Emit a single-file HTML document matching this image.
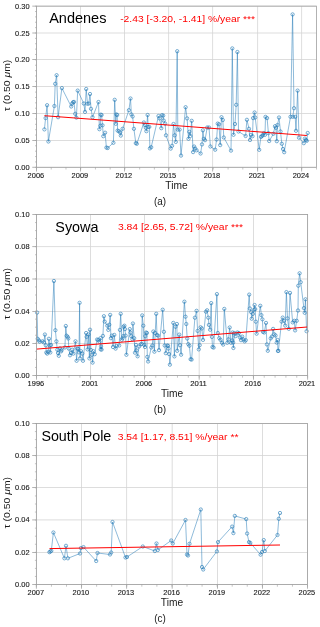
<!DOCTYPE html>
<html><head><meta charset="utf-8"><style>
html,body{margin:0;padding:0;background:#fff;width:320px;height:627px;overflow:hidden}
svg{display:block;will-change:transform}
text{font-family:"Liberation Sans", sans-serif}
</style></head><body>
<svg width="320" height="627" viewBox="0 0 320 627">
<line x1="36.50" y1="6.15" x2="36.50" y2="167.30" stroke="#d4d4d4" stroke-width="0.8"/>
<line x1="80.50" y1="6.15" x2="80.50" y2="167.30" stroke="#d4d4d4" stroke-width="0.8"/>
<line x1="124.50" y1="6.15" x2="124.50" y2="167.30" stroke="#d4d4d4" stroke-width="0.8"/>
<line x1="168.60" y1="6.15" x2="168.60" y2="167.30" stroke="#d4d4d4" stroke-width="0.8"/>
<line x1="212.60" y1="6.15" x2="212.60" y2="167.30" stroke="#d4d4d4" stroke-width="0.8"/>
<line x1="257.60" y1="6.15" x2="257.60" y2="167.30" stroke="#d4d4d4" stroke-width="0.8"/>
<line x1="301.60" y1="6.15" x2="301.60" y2="167.30" stroke="#d4d4d4" stroke-width="0.8"/>
<line x1="36.50" y1="167.30" x2="316.50" y2="167.30" stroke="#d4d4d4" stroke-width="0.8"/>
<line x1="36.50" y1="140.50" x2="316.50" y2="140.50" stroke="#d4d4d4" stroke-width="0.8"/>
<line x1="36.50" y1="113.50" x2="316.50" y2="113.50" stroke="#d4d4d4" stroke-width="0.8"/>
<line x1="36.50" y1="86.50" x2="316.50" y2="86.50" stroke="#d4d4d4" stroke-width="0.8"/>
<line x1="36.50" y1="59.50" x2="316.50" y2="59.50" stroke="#d4d4d4" stroke-width="0.8"/>
<line x1="36.50" y1="33.00" x2="316.50" y2="33.00" stroke="#d4d4d4" stroke-width="0.8"/>
<line x1="36.50" y1="6.15" x2="316.50" y2="6.15" stroke="#d4d4d4" stroke-width="0.8"/>
<polyline points="44.4,129.4 45.6,118.1 47.1,105.2 48.4,141.5 54.4,106.0 55.2,83.8 56.6,75.2 58.1,117.2 61.9,88.1 71.2,106.5 72.2,103.5 73.1,102.2 74.0,101.9 75.2,113.8 76.4,117.6 77.7,90.6 83.8,103.5 85.0,111.9 86.2,89.0 87.5,103.8 88.8,103.5 90.0,94.0 91.0,108.8 92.5,117.2 98.5,102.0 99.4,129.2 100.3,125.7 100.7,114.7 101.6,115.0 102.5,125.3 103.3,136.2 105.1,132.7 106.4,147.6 107.7,148.0 113.4,142.8 114.7,99.8 115.8,123.8 116.4,114.4 117.2,115.0 117.6,130.6 118.9,131.2 120.1,132.5 120.8,135.6 122.6,128.8 128.9,110.2 130.5,98.5 131.4,114.4 132.6,116.5 133.9,128.8 135.8,143.1 136.8,143.8 143.9,122.5 144.8,125.0 145.8,127.8 146.4,131.2 147.6,115.0 148.2,126.9 149.3,126.9 149.9,148.4 151.2,147.2 158.5,116.0 159.5,118.4 161.3,128.2 162.0,115.2 163.2,115.6 163.7,120.5 165.1,123.6 166.0,135.3 170.7,148.6 172.1,145.8 173.5,124.0 174.7,135.3 175.8,141.9 177.2,51.2 177.8,129.6 179.6,129.6 181.0,155.6 185.6,107.2 187.1,118.4 188.5,138.8 189.3,131.8 190.3,136.0 191.7,120.8 193.1,152.1 194.1,146.5 195.2,148.6 196.6,150.3 200.6,153.5 202.0,144.4 202.9,130.3 203.9,138.8 205.0,140.2 207.2,127.5 209.0,127.5 210.4,146.5 215.2,149.7 216.6,139.5 217.7,123.6 219.0,124.3 220.2,145.1 221.5,117.2 222.8,120.0 223.8,137.5 231.0,150.6 232.3,48.4 233.5,134.8 235.0,124.0 236.2,104.8 237.4,52.0 238.5,131.5 245.6,136.0 246.9,119.8 249.0,128.8 250.0,140.0 251.0,134.8 252.5,136.2 253.1,118.1 254.6,112.5 255.2,117.5 259.2,149.8 260.9,136.9 261.8,136.2 262.8,135.2 263.8,133.1 265.0,134.8 265.5,116.9 267.1,118.1 268.4,133.1 269.2,141.0 273.4,133.8 275.0,126.2 275.9,127.8 276.8,141.2 277.5,125.0 279.0,117.5 280.5,131.5 281.8,143.8 283.0,149.0 284.2,152.2 290.5,116.8 292.6,14.4 294.0,108.2 292.8,116.8 295.2,116.8 296.0,130.8 297.6,90.6 299.0,137.7 303.8,143.2 304.9,138.6 306.0,140.0 306.8,140.8 307.7,133.0" fill="none" stroke="#1f77b4" stroke-width="0.5" stroke-linejoin="round"/>
<g fill="none" stroke="#1f77b4" stroke-width="0.6">
<circle cx="44.4" cy="129.4" r="1.65"/>
<circle cx="45.6" cy="118.1" r="1.65"/>
<circle cx="47.1" cy="105.2" r="1.65"/>
<circle cx="48.4" cy="141.5" r="1.65"/>
<circle cx="54.4" cy="106.0" r="1.65"/>
<circle cx="55.2" cy="83.8" r="1.65"/>
<circle cx="56.6" cy="75.2" r="1.65"/>
<circle cx="58.1" cy="117.2" r="1.65"/>
<circle cx="61.9" cy="88.1" r="1.65"/>
<circle cx="71.2" cy="106.5" r="1.65"/>
<circle cx="72.2" cy="103.5" r="1.65"/>
<circle cx="73.1" cy="102.2" r="1.65"/>
<circle cx="74.0" cy="101.9" r="1.65"/>
<circle cx="75.2" cy="113.8" r="1.65"/>
<circle cx="76.4" cy="117.6" r="1.65"/>
<circle cx="77.7" cy="90.6" r="1.65"/>
<circle cx="83.8" cy="103.5" r="1.65"/>
<circle cx="85.0" cy="111.9" r="1.65"/>
<circle cx="86.2" cy="89.0" r="1.65"/>
<circle cx="87.5" cy="103.8" r="1.65"/>
<circle cx="88.8" cy="103.5" r="1.65"/>
<circle cx="90.0" cy="94.0" r="1.65"/>
<circle cx="91.0" cy="108.8" r="1.65"/>
<circle cx="92.5" cy="117.2" r="1.65"/>
<circle cx="98.5" cy="102.0" r="1.65"/>
<circle cx="99.4" cy="129.2" r="1.65"/>
<circle cx="100.3" cy="125.7" r="1.65"/>
<circle cx="100.7" cy="114.7" r="1.65"/>
<circle cx="101.6" cy="115.0" r="1.65"/>
<circle cx="102.5" cy="125.3" r="1.65"/>
<circle cx="103.3" cy="136.2" r="1.65"/>
<circle cx="105.1" cy="132.7" r="1.65"/>
<circle cx="106.4" cy="147.6" r="1.65"/>
<circle cx="107.7" cy="148.0" r="1.65"/>
<circle cx="113.4" cy="142.8" r="1.65"/>
<circle cx="114.7" cy="99.8" r="1.65"/>
<circle cx="115.8" cy="123.8" r="1.65"/>
<circle cx="116.4" cy="114.4" r="1.65"/>
<circle cx="117.2" cy="115.0" r="1.65"/>
<circle cx="117.6" cy="130.6" r="1.65"/>
<circle cx="118.9" cy="131.2" r="1.65"/>
<circle cx="120.1" cy="132.5" r="1.65"/>
<circle cx="120.8" cy="135.6" r="1.65"/>
<circle cx="122.6" cy="128.8" r="1.65"/>
<circle cx="128.9" cy="110.2" r="1.65"/>
<circle cx="130.5" cy="98.5" r="1.65"/>
<circle cx="131.4" cy="114.4" r="1.65"/>
<circle cx="132.6" cy="116.5" r="1.65"/>
<circle cx="133.9" cy="128.8" r="1.65"/>
<circle cx="135.8" cy="143.1" r="1.65"/>
<circle cx="136.8" cy="143.8" r="1.65"/>
<circle cx="143.9" cy="122.5" r="1.65"/>
<circle cx="144.8" cy="125.0" r="1.65"/>
<circle cx="145.8" cy="127.8" r="1.65"/>
<circle cx="146.4" cy="131.2" r="1.65"/>
<circle cx="147.6" cy="115.0" r="1.65"/>
<circle cx="148.2" cy="126.9" r="1.65"/>
<circle cx="149.3" cy="126.9" r="1.65"/>
<circle cx="149.9" cy="148.4" r="1.65"/>
<circle cx="151.2" cy="147.2" r="1.65"/>
<circle cx="158.5" cy="116.0" r="1.65"/>
<circle cx="159.5" cy="118.4" r="1.65"/>
<circle cx="161.3" cy="128.2" r="1.65"/>
<circle cx="162.0" cy="115.2" r="1.65"/>
<circle cx="163.2" cy="115.6" r="1.65"/>
<circle cx="163.7" cy="120.5" r="1.65"/>
<circle cx="165.1" cy="123.6" r="1.65"/>
<circle cx="166.0" cy="135.3" r="1.65"/>
<circle cx="170.7" cy="148.6" r="1.65"/>
<circle cx="172.1" cy="145.8" r="1.65"/>
<circle cx="173.5" cy="124.0" r="1.65"/>
<circle cx="174.7" cy="135.3" r="1.65"/>
<circle cx="175.8" cy="141.9" r="1.65"/>
<circle cx="177.2" cy="51.2" r="1.65"/>
<circle cx="177.8" cy="129.6" r="1.65"/>
<circle cx="179.6" cy="129.6" r="1.65"/>
<circle cx="181.0" cy="155.6" r="1.65"/>
<circle cx="185.6" cy="107.2" r="1.65"/>
<circle cx="187.1" cy="118.4" r="1.65"/>
<circle cx="188.5" cy="138.8" r="1.65"/>
<circle cx="189.3" cy="131.8" r="1.65"/>
<circle cx="190.3" cy="136.0" r="1.65"/>
<circle cx="191.7" cy="120.8" r="1.65"/>
<circle cx="193.1" cy="152.1" r="1.65"/>
<circle cx="194.1" cy="146.5" r="1.65"/>
<circle cx="195.2" cy="148.6" r="1.65"/>
<circle cx="196.6" cy="150.3" r="1.65"/>
<circle cx="200.6" cy="153.5" r="1.65"/>
<circle cx="202.0" cy="144.4" r="1.65"/>
<circle cx="202.9" cy="130.3" r="1.65"/>
<circle cx="203.9" cy="138.8" r="1.65"/>
<circle cx="205.0" cy="140.2" r="1.65"/>
<circle cx="207.2" cy="127.5" r="1.65"/>
<circle cx="209.0" cy="127.5" r="1.65"/>
<circle cx="210.4" cy="146.5" r="1.65"/>
<circle cx="215.2" cy="149.7" r="1.65"/>
<circle cx="216.6" cy="139.5" r="1.65"/>
<circle cx="217.7" cy="123.6" r="1.65"/>
<circle cx="219.0" cy="124.3" r="1.65"/>
<circle cx="220.2" cy="145.1" r="1.65"/>
<circle cx="221.5" cy="117.2" r="1.65"/>
<circle cx="222.8" cy="120.0" r="1.65"/>
<circle cx="223.8" cy="137.5" r="1.65"/>
<circle cx="231.0" cy="150.6" r="1.65"/>
<circle cx="232.3" cy="48.4" r="1.65"/>
<circle cx="233.5" cy="134.8" r="1.65"/>
<circle cx="235.0" cy="124.0" r="1.65"/>
<circle cx="236.2" cy="104.8" r="1.65"/>
<circle cx="237.4" cy="52.0" r="1.65"/>
<circle cx="238.5" cy="131.5" r="1.65"/>
<circle cx="245.6" cy="136.0" r="1.65"/>
<circle cx="246.9" cy="119.8" r="1.65"/>
<circle cx="249.0" cy="128.8" r="1.65"/>
<circle cx="250.0" cy="140.0" r="1.65"/>
<circle cx="251.0" cy="134.8" r="1.65"/>
<circle cx="252.5" cy="136.2" r="1.65"/>
<circle cx="253.1" cy="118.1" r="1.65"/>
<circle cx="254.6" cy="112.5" r="1.65"/>
<circle cx="255.2" cy="117.5" r="1.65"/>
<circle cx="259.2" cy="149.8" r="1.65"/>
<circle cx="260.9" cy="136.9" r="1.65"/>
<circle cx="261.8" cy="136.2" r="1.65"/>
<circle cx="262.8" cy="135.2" r="1.65"/>
<circle cx="263.8" cy="133.1" r="1.65"/>
<circle cx="265.0" cy="134.8" r="1.65"/>
<circle cx="265.5" cy="116.9" r="1.65"/>
<circle cx="267.1" cy="118.1" r="1.65"/>
<circle cx="268.4" cy="133.1" r="1.65"/>
<circle cx="269.2" cy="141.0" r="1.65"/>
<circle cx="273.4" cy="133.8" r="1.65"/>
<circle cx="275.0" cy="126.2" r="1.65"/>
<circle cx="275.9" cy="127.8" r="1.65"/>
<circle cx="276.8" cy="141.2" r="1.65"/>
<circle cx="277.5" cy="125.0" r="1.65"/>
<circle cx="279.0" cy="117.5" r="1.65"/>
<circle cx="280.5" cy="131.5" r="1.65"/>
<circle cx="281.8" cy="143.8" r="1.65"/>
<circle cx="283.0" cy="149.0" r="1.65"/>
<circle cx="284.2" cy="152.2" r="1.65"/>
<circle cx="290.5" cy="116.8" r="1.65"/>
<circle cx="292.6" cy="14.4" r="1.65"/>
<circle cx="294.0" cy="108.2" r="1.65"/>
<circle cx="292.8" cy="116.8" r="1.65"/>
<circle cx="295.2" cy="116.8" r="1.65"/>
<circle cx="296.0" cy="130.8" r="1.65"/>
<circle cx="297.6" cy="90.6" r="1.65"/>
<circle cx="299.0" cy="137.7" r="1.65"/>
<circle cx="303.8" cy="143.2" r="1.65"/>
<circle cx="304.9" cy="138.6" r="1.65"/>
<circle cx="306.0" cy="140.0" r="1.65"/>
<circle cx="306.8" cy="140.8" r="1.65"/>
<circle cx="307.7" cy="133.0" r="1.65"/>
</g>
<line x1="44.4" y1="115.7" x2="306.9" y2="135.5" stroke="#ff0000" stroke-width="1.0"/>
<rect x="36.50" y="6.15" width="280.00" height="161.15" fill="none" stroke="#a0a0a0" stroke-width="0.8"/>
<line x1="36.50" y1="167.30" x2="36.50" y2="169.50" stroke="#a0a0a0" stroke-width="0.6"/>
<line x1="51.24" y1="167.30" x2="51.24" y2="169.50" stroke="#a0a0a0" stroke-width="0.6"/>
<line x1="65.97" y1="167.30" x2="65.97" y2="169.50" stroke="#a0a0a0" stroke-width="0.6"/>
<line x1="80.71" y1="167.30" x2="80.71" y2="169.50" stroke="#a0a0a0" stroke-width="0.6"/>
<line x1="95.45" y1="167.30" x2="95.45" y2="169.50" stroke="#a0a0a0" stroke-width="0.6"/>
<line x1="110.18" y1="167.30" x2="110.18" y2="169.50" stroke="#a0a0a0" stroke-width="0.6"/>
<line x1="124.92" y1="167.30" x2="124.92" y2="169.50" stroke="#a0a0a0" stroke-width="0.6"/>
<line x1="139.66" y1="167.30" x2="139.66" y2="169.50" stroke="#a0a0a0" stroke-width="0.6"/>
<line x1="154.39" y1="167.30" x2="154.39" y2="169.50" stroke="#a0a0a0" stroke-width="0.6"/>
<line x1="169.13" y1="167.30" x2="169.13" y2="169.50" stroke="#a0a0a0" stroke-width="0.6"/>
<line x1="183.87" y1="167.30" x2="183.87" y2="169.50" stroke="#a0a0a0" stroke-width="0.6"/>
<line x1="198.61" y1="167.30" x2="198.61" y2="169.50" stroke="#a0a0a0" stroke-width="0.6"/>
<line x1="213.34" y1="167.30" x2="213.34" y2="169.50" stroke="#a0a0a0" stroke-width="0.6"/>
<line x1="228.08" y1="167.30" x2="228.08" y2="169.50" stroke="#a0a0a0" stroke-width="0.6"/>
<line x1="242.82" y1="167.30" x2="242.82" y2="169.50" stroke="#a0a0a0" stroke-width="0.6"/>
<line x1="257.55" y1="167.30" x2="257.55" y2="169.50" stroke="#a0a0a0" stroke-width="0.6"/>
<line x1="272.29" y1="167.30" x2="272.29" y2="169.50" stroke="#a0a0a0" stroke-width="0.6"/>
<line x1="287.03" y1="167.30" x2="287.03" y2="169.50" stroke="#a0a0a0" stroke-width="0.6"/>
<line x1="301.76" y1="167.30" x2="301.76" y2="169.50" stroke="#a0a0a0" stroke-width="0.6"/>
<line x1="316.50" y1="167.30" x2="316.50" y2="169.50" stroke="#a0a0a0" stroke-width="0.6"/>
<line x1="36.50" y1="167.30" x2="36.50" y2="171.50" stroke="#a0a0a0" stroke-width="0.8"/>
<text x="35.90" y="178.10" font-size="7.20" text-anchor="middle" fill="#1a1a1a" textLength="16.54" lengthAdjust="spacingAndGlyphs" stroke="#1a1a1a" stroke-width="0.12">2006</text>
<line x1="80.50" y1="167.30" x2="80.50" y2="171.50" stroke="#a0a0a0" stroke-width="0.8"/>
<text x="79.90" y="178.10" font-size="7.20" text-anchor="middle" fill="#1a1a1a" textLength="16.54" lengthAdjust="spacingAndGlyphs" stroke="#1a1a1a" stroke-width="0.12">2009</text>
<line x1="124.50" y1="167.30" x2="124.50" y2="171.50" stroke="#a0a0a0" stroke-width="0.8"/>
<text x="123.90" y="178.10" font-size="7.20" text-anchor="middle" fill="#1a1a1a" textLength="16.54" lengthAdjust="spacingAndGlyphs" stroke="#1a1a1a" stroke-width="0.12">2012</text>
<line x1="168.60" y1="167.30" x2="168.60" y2="171.50" stroke="#a0a0a0" stroke-width="0.8"/>
<text x="168.00" y="178.10" font-size="7.20" text-anchor="middle" fill="#1a1a1a" textLength="16.54" lengthAdjust="spacingAndGlyphs" stroke="#1a1a1a" stroke-width="0.12">2015</text>
<line x1="212.60" y1="167.30" x2="212.60" y2="171.50" stroke="#a0a0a0" stroke-width="0.8"/>
<text x="212.00" y="178.10" font-size="7.20" text-anchor="middle" fill="#1a1a1a" textLength="16.54" lengthAdjust="spacingAndGlyphs" stroke="#1a1a1a" stroke-width="0.12">2018</text>
<line x1="257.60" y1="167.30" x2="257.60" y2="171.50" stroke="#a0a0a0" stroke-width="0.8"/>
<text x="257.00" y="178.10" font-size="7.20" text-anchor="middle" fill="#1a1a1a" textLength="16.54" lengthAdjust="spacingAndGlyphs" stroke="#1a1a1a" stroke-width="0.12">2021</text>
<line x1="301.60" y1="167.30" x2="301.60" y2="171.50" stroke="#a0a0a0" stroke-width="0.8"/>
<text x="301.00" y="178.10" font-size="7.20" text-anchor="middle" fill="#1a1a1a" textLength="16.54" lengthAdjust="spacingAndGlyphs" stroke="#1a1a1a" stroke-width="0.12">2024</text>
<line x1="35.00" y1="167.30" x2="36.50" y2="167.30" stroke="#a0a0a0" stroke-width="0.6"/>
<line x1="35.00" y1="161.93" x2="36.50" y2="161.93" stroke="#a0a0a0" stroke-width="0.6"/>
<line x1="35.00" y1="156.56" x2="36.50" y2="156.56" stroke="#a0a0a0" stroke-width="0.6"/>
<line x1="35.00" y1="151.19" x2="36.50" y2="151.19" stroke="#a0a0a0" stroke-width="0.6"/>
<line x1="35.00" y1="145.81" x2="36.50" y2="145.81" stroke="#a0a0a0" stroke-width="0.6"/>
<line x1="35.00" y1="140.44" x2="36.50" y2="140.44" stroke="#a0a0a0" stroke-width="0.6"/>
<line x1="35.00" y1="135.07" x2="36.50" y2="135.07" stroke="#a0a0a0" stroke-width="0.6"/>
<line x1="35.00" y1="129.70" x2="36.50" y2="129.70" stroke="#a0a0a0" stroke-width="0.6"/>
<line x1="35.00" y1="124.33" x2="36.50" y2="124.33" stroke="#a0a0a0" stroke-width="0.6"/>
<line x1="35.00" y1="118.96" x2="36.50" y2="118.96" stroke="#a0a0a0" stroke-width="0.6"/>
<line x1="35.00" y1="113.58" x2="36.50" y2="113.58" stroke="#a0a0a0" stroke-width="0.6"/>
<line x1="35.00" y1="108.21" x2="36.50" y2="108.21" stroke="#a0a0a0" stroke-width="0.6"/>
<line x1="35.00" y1="102.84" x2="36.50" y2="102.84" stroke="#a0a0a0" stroke-width="0.6"/>
<line x1="35.00" y1="97.47" x2="36.50" y2="97.47" stroke="#a0a0a0" stroke-width="0.6"/>
<line x1="35.00" y1="92.10" x2="36.50" y2="92.10" stroke="#a0a0a0" stroke-width="0.6"/>
<line x1="35.00" y1="86.73" x2="36.50" y2="86.73" stroke="#a0a0a0" stroke-width="0.6"/>
<line x1="35.00" y1="81.35" x2="36.50" y2="81.35" stroke="#a0a0a0" stroke-width="0.6"/>
<line x1="35.00" y1="75.98" x2="36.50" y2="75.98" stroke="#a0a0a0" stroke-width="0.6"/>
<line x1="35.00" y1="70.61" x2="36.50" y2="70.61" stroke="#a0a0a0" stroke-width="0.6"/>
<line x1="35.00" y1="65.24" x2="36.50" y2="65.24" stroke="#a0a0a0" stroke-width="0.6"/>
<line x1="35.00" y1="59.87" x2="36.50" y2="59.87" stroke="#a0a0a0" stroke-width="0.6"/>
<line x1="35.00" y1="54.49" x2="36.50" y2="54.49" stroke="#a0a0a0" stroke-width="0.6"/>
<line x1="35.00" y1="49.12" x2="36.50" y2="49.12" stroke="#a0a0a0" stroke-width="0.6"/>
<line x1="35.00" y1="43.75" x2="36.50" y2="43.75" stroke="#a0a0a0" stroke-width="0.6"/>
<line x1="35.00" y1="38.38" x2="36.50" y2="38.38" stroke="#a0a0a0" stroke-width="0.6"/>
<line x1="35.00" y1="33.01" x2="36.50" y2="33.01" stroke="#a0a0a0" stroke-width="0.6"/>
<line x1="35.00" y1="27.64" x2="36.50" y2="27.64" stroke="#a0a0a0" stroke-width="0.6"/>
<line x1="35.00" y1="22.26" x2="36.50" y2="22.26" stroke="#a0a0a0" stroke-width="0.6"/>
<line x1="35.00" y1="16.89" x2="36.50" y2="16.89" stroke="#a0a0a0" stroke-width="0.6"/>
<line x1="35.00" y1="11.52" x2="36.50" y2="11.52" stroke="#a0a0a0" stroke-width="0.6"/>
<line x1="35.00" y1="6.15" x2="36.50" y2="6.15" stroke="#a0a0a0" stroke-width="0.6"/>
<line x1="32.30" y1="167.30" x2="36.50" y2="167.30" stroke="#a0a0a0" stroke-width="0.8"/>
<text x="29.60" y="169.85" font-size="7.20" text-anchor="end" fill="#1a1a1a" textLength="14.47" lengthAdjust="spacingAndGlyphs" stroke="#1a1a1a" stroke-width="0.12">0.00</text>
<line x1="32.30" y1="140.50" x2="36.50" y2="140.50" stroke="#a0a0a0" stroke-width="0.8"/>
<text x="29.60" y="143.05" font-size="7.20" text-anchor="end" fill="#1a1a1a" textLength="14.47" lengthAdjust="spacingAndGlyphs" stroke="#1a1a1a" stroke-width="0.12">0.05</text>
<line x1="32.30" y1="113.50" x2="36.50" y2="113.50" stroke="#a0a0a0" stroke-width="0.8"/>
<text x="29.60" y="116.05" font-size="7.20" text-anchor="end" fill="#1a1a1a" textLength="14.47" lengthAdjust="spacingAndGlyphs" stroke="#1a1a1a" stroke-width="0.12">0.10</text>
<line x1="32.30" y1="86.50" x2="36.50" y2="86.50" stroke="#a0a0a0" stroke-width="0.8"/>
<text x="29.60" y="89.05" font-size="7.20" text-anchor="end" fill="#1a1a1a" textLength="14.47" lengthAdjust="spacingAndGlyphs" stroke="#1a1a1a" stroke-width="0.12">0.15</text>
<line x1="32.30" y1="59.50" x2="36.50" y2="59.50" stroke="#a0a0a0" stroke-width="0.8"/>
<text x="29.60" y="62.05" font-size="7.20" text-anchor="end" fill="#1a1a1a" textLength="14.47" lengthAdjust="spacingAndGlyphs" stroke="#1a1a1a" stroke-width="0.12">0.20</text>
<line x1="32.30" y1="33.00" x2="36.50" y2="33.00" stroke="#a0a0a0" stroke-width="0.8"/>
<text x="29.60" y="35.55" font-size="7.20" text-anchor="end" fill="#1a1a1a" textLength="14.47" lengthAdjust="spacingAndGlyphs" stroke="#1a1a1a" stroke-width="0.12">0.25</text>
<line x1="32.30" y1="6.15" x2="36.50" y2="6.15" stroke="#a0a0a0" stroke-width="0.8"/>
<text x="29.60" y="8.70" font-size="7.20" text-anchor="end" fill="#1a1a1a" textLength="14.47" lengthAdjust="spacingAndGlyphs" stroke="#1a1a1a" stroke-width="0.12">0.30</text>
<text x="49.20" y="23.30" font-size="13.80" text-anchor="start" fill="#000" textLength="57.24" lengthAdjust="spacingAndGlyphs">Andenes</text>
<text x="120.20" y="21.90" font-size="9.46" text-anchor="start" fill="#ff0000" textLength="134.83" lengthAdjust="spacingAndGlyphs">-2.43 [-3.20, -1.41] %/year ***</text>
<text x="176.50" y="188.90" font-size="10.40" text-anchor="middle" fill="#1a1a1a" textLength="22.30" lengthAdjust="spacingAndGlyphs">Time</text>
<text x="160.00" y="204.90" font-size="10.30" text-anchor="middle" fill="#1a1a1a" textLength="12.12" lengthAdjust="spacingAndGlyphs">(a)</text>
<text font-size="9.80" text-anchor="middle" fill="#1a1a1a" textLength="51.53" lengthAdjust="spacingAndGlyphs" transform="translate(9.6,85.43) rotate(-90)">τ (0.50 <tspan font-style="italic">μ</tspan>m)</text><line x1="36.50" y1="214.50" x2="36.50" y2="375.50" stroke="#d4d4d4" stroke-width="0.8"/>
<line x1="90.50" y1="214.50" x2="90.50" y2="375.50" stroke="#d4d4d4" stroke-width="0.8"/>
<line x1="144.50" y1="214.50" x2="144.50" y2="375.50" stroke="#d4d4d4" stroke-width="0.8"/>
<line x1="199.20" y1="214.50" x2="199.20" y2="375.50" stroke="#d4d4d4" stroke-width="0.8"/>
<line x1="253.50" y1="214.50" x2="253.50" y2="375.50" stroke="#d4d4d4" stroke-width="0.8"/>
<line x1="307.60" y1="214.50" x2="307.60" y2="375.50" stroke="#d4d4d4" stroke-width="0.8"/>
<line x1="36.50" y1="375.50" x2="307.60" y2="375.50" stroke="#d4d4d4" stroke-width="0.8"/>
<line x1="36.50" y1="343.50" x2="307.60" y2="343.50" stroke="#d4d4d4" stroke-width="0.8"/>
<line x1="36.50" y1="311.50" x2="307.60" y2="311.50" stroke="#d4d4d4" stroke-width="0.8"/>
<line x1="36.50" y1="279.00" x2="307.60" y2="279.00" stroke="#d4d4d4" stroke-width="0.8"/>
<line x1="36.50" y1="246.60" x2="307.60" y2="246.60" stroke="#d4d4d4" stroke-width="0.8"/>
<line x1="36.50" y1="214.50" x2="307.60" y2="214.50" stroke="#d4d4d4" stroke-width="0.8"/>
<polyline points="37.1,312.6 37.7,338.8 38.9,340.3 39.6,341.7 42.5,341.3 43.9,342.4 44.9,334.5 45.8,345.3 46.3,352.5 47.2,353.6 48.2,351.8 48.9,338.8 49.6,345.3 50.3,352.5 51.1,345.0 53.9,281.0 55.4,330.2 56.4,341.3 57.3,349.7 58.0,353.0 58.8,355.8 59.9,348.3 61.0,351.4 61.6,350.2 64.9,347.5 65.8,326.0 66.6,335.7 67.7,336.9 68.3,338.5 68.8,348.6 70.0,355.3 71.1,353.0 72.2,349.7 73.3,353.6 75.5,341.3 76.6,360.8 77.4,348.6 78.0,348.8 79.0,352.4 79.6,302.8 80.0,358.4 81.0,351.2 82.2,353.6 83.0,360.8 86.1,333.0 86.6,336.9 87.6,349.4 88.5,334.5 89.4,358.4 90.0,329.7 90.9,350.0 91.8,354.8 92.6,362.6 93.5,351.2 94.7,354.2 97.1,339.5 98.3,339.9 99.5,341.7 100.5,338.2 100.7,349.4 101.0,346.5 101.6,349.6 102.9,335.9 103.9,316.2 104.7,321.6 107.3,325.7 108.3,329.9 109.3,324.7 110.2,314.9 110.9,338.2 111.9,335.6 113.0,347.0 114.3,334.9 115.6,348.6 116.6,346.0 119.2,345.5 119.9,329.9 120.7,313.8 121.8,339.8 122.5,338.2 123.3,336.1 123.6,326.8 124.4,325.7 124.9,329.1 125.6,335.6 126.4,354.8 129.8,329.1 130.3,332.5 131.3,336.1 132.4,339.2 132.9,323.5 134.2,338.2 135.0,352.7 136.0,344.9 136.5,350.4 137.6,356.3 139.1,346.5 140.7,344.4 141.7,343.9 142.2,315.4 143.3,325.7 144.3,344.9 145.0,347.0 145.3,336.1 146.1,332.5 146.9,333.0 147.3,356.9 148.1,361.5 151.3,347.5 152.3,345.5 153.3,331.5 154.4,351.7 155.2,333.0 156.2,313.8 157.0,335.1 158.0,335.6 159.0,350.1 162.7,309.7 163.9,331.8 164.7,345.5 165.8,353.2 167.3,345.5 168.0,345.8 168.4,348.6 169.1,354.1 169.9,364.7 173.3,322.9 174.4,356.4 175.5,326.8 176.9,324.0 177.2,350.8 179.2,334.6 180.0,345.2 181.1,354.7 184.4,301.7 185.5,316.7 186.3,324.0 187.2,338.5 188.3,344.1 189.4,345.8 190.6,359.2 191.6,359.6 194.9,317.7 196.6,310.8 197.6,330.9 198.8,349.4 199.7,345.2 200.6,327.3 201.8,328.5 203.0,339.9 205.9,311.7 207.1,310.3 208.3,317.7 208.9,324.9 210.1,329.7 211.2,303.1 211.9,336.9 212.5,347.0 213.6,347.6 216.9,294.1 217.8,333.0 219.3,338.1 220.5,339.9 222.0,342.8 223.2,344.6 224.3,308.9 227.3,342.8 228.5,339.3 229.7,327.5 230.9,342.8 232.1,340.5 232.6,332.5 233.1,342.6 233.4,348.0 234.4,333.1 235.6,336.1 237.4,332.5 238.9,333.1 239.8,337.2 241.0,340.2 242.2,336.6 243.4,339.6 244.6,341.4 245.8,340.2 249.2,294.6 249.9,308.5 251.1,312.1 251.7,318.7 252.9,313.9 254.1,309.7 254.6,305.0 255.2,309.1 255.8,321.7 256.6,333.7 260.3,305.8 261.4,315.1 262.4,319.3 263.0,331.9 264.2,332.5 266.0,322.9 266.9,344.4 267.8,350.8 270.7,338.4 271.9,336.6 273.1,328.9 274.3,334.3 275.5,335.5 276.7,342.6 277.6,340.0 277.9,351.0 278.4,350.8 281.6,321.6 282.7,317.6 284.0,320.8 285.2,325.6 286.4,292.1 287.5,318.4 288.8,328.8 290.0,292.9 292.7,322.4 294.3,320.8 295.1,330.4 296.7,320.8 298.0,310.5 298.3,285.7 299.6,273.3 300.7,282.2 303.9,308.1 304.7,312.8 305.5,299.3 306.6,331.2" fill="none" stroke="#1f77b4" stroke-width="0.5" stroke-linejoin="round"/>
<g fill="none" stroke="#1f77b4" stroke-width="0.6">
<circle cx="37.1" cy="312.6" r="1.65"/>
<circle cx="37.7" cy="338.8" r="1.65"/>
<circle cx="38.9" cy="340.3" r="1.65"/>
<circle cx="39.6" cy="341.7" r="1.65"/>
<circle cx="42.5" cy="341.3" r="1.65"/>
<circle cx="43.9" cy="342.4" r="1.65"/>
<circle cx="44.9" cy="334.5" r="1.65"/>
<circle cx="45.8" cy="345.3" r="1.65"/>
<circle cx="46.3" cy="352.5" r="1.65"/>
<circle cx="47.2" cy="353.6" r="1.65"/>
<circle cx="48.2" cy="351.8" r="1.65"/>
<circle cx="48.9" cy="338.8" r="1.65"/>
<circle cx="49.6" cy="345.3" r="1.65"/>
<circle cx="50.3" cy="352.5" r="1.65"/>
<circle cx="51.1" cy="345.0" r="1.65"/>
<circle cx="53.9" cy="281.0" r="1.65"/>
<circle cx="55.4" cy="330.2" r="1.65"/>
<circle cx="56.4" cy="341.3" r="1.65"/>
<circle cx="57.3" cy="349.7" r="1.65"/>
<circle cx="58.0" cy="353.0" r="1.65"/>
<circle cx="58.8" cy="355.8" r="1.65"/>
<circle cx="59.9" cy="348.3" r="1.65"/>
<circle cx="61.0" cy="351.4" r="1.65"/>
<circle cx="61.6" cy="350.2" r="1.65"/>
<circle cx="64.9" cy="347.5" r="1.65"/>
<circle cx="65.8" cy="326.0" r="1.65"/>
<circle cx="66.6" cy="335.7" r="1.65"/>
<circle cx="67.7" cy="336.9" r="1.65"/>
<circle cx="68.3" cy="338.5" r="1.65"/>
<circle cx="68.8" cy="348.6" r="1.65"/>
<circle cx="70.0" cy="355.3" r="1.65"/>
<circle cx="71.1" cy="353.0" r="1.65"/>
<circle cx="72.2" cy="349.7" r="1.65"/>
<circle cx="73.3" cy="353.6" r="1.65"/>
<circle cx="75.5" cy="341.3" r="1.65"/>
<circle cx="76.6" cy="360.8" r="1.65"/>
<circle cx="77.4" cy="348.6" r="1.65"/>
<circle cx="78.0" cy="348.8" r="1.65"/>
<circle cx="79.0" cy="352.4" r="1.65"/>
<circle cx="79.6" cy="302.8" r="1.65"/>
<circle cx="80.0" cy="358.4" r="1.65"/>
<circle cx="81.0" cy="351.2" r="1.65"/>
<circle cx="82.2" cy="353.6" r="1.65"/>
<circle cx="83.0" cy="360.8" r="1.65"/>
<circle cx="86.1" cy="333.0" r="1.65"/>
<circle cx="86.6" cy="336.9" r="1.65"/>
<circle cx="87.6" cy="349.4" r="1.65"/>
<circle cx="88.5" cy="334.5" r="1.65"/>
<circle cx="89.4" cy="358.4" r="1.65"/>
<circle cx="90.0" cy="329.7" r="1.65"/>
<circle cx="90.9" cy="350.0" r="1.65"/>
<circle cx="91.8" cy="354.8" r="1.65"/>
<circle cx="92.6" cy="362.6" r="1.65"/>
<circle cx="93.5" cy="351.2" r="1.65"/>
<circle cx="94.7" cy="354.2" r="1.65"/>
<circle cx="97.1" cy="339.5" r="1.65"/>
<circle cx="98.3" cy="339.9" r="1.65"/>
<circle cx="99.5" cy="341.7" r="1.65"/>
<circle cx="100.5" cy="338.2" r="1.65"/>
<circle cx="100.7" cy="349.4" r="1.65"/>
<circle cx="101.0" cy="346.5" r="1.65"/>
<circle cx="101.6" cy="349.6" r="1.65"/>
<circle cx="102.9" cy="335.9" r="1.65"/>
<circle cx="103.9" cy="316.2" r="1.65"/>
<circle cx="104.7" cy="321.6" r="1.65"/>
<circle cx="107.3" cy="325.7" r="1.65"/>
<circle cx="108.3" cy="329.9" r="1.65"/>
<circle cx="109.3" cy="324.7" r="1.65"/>
<circle cx="110.2" cy="314.9" r="1.65"/>
<circle cx="110.9" cy="338.2" r="1.65"/>
<circle cx="111.9" cy="335.6" r="1.65"/>
<circle cx="113.0" cy="347.0" r="1.65"/>
<circle cx="114.3" cy="334.9" r="1.65"/>
<circle cx="115.6" cy="348.6" r="1.65"/>
<circle cx="116.6" cy="346.0" r="1.65"/>
<circle cx="119.2" cy="345.5" r="1.65"/>
<circle cx="119.9" cy="329.9" r="1.65"/>
<circle cx="120.7" cy="313.8" r="1.65"/>
<circle cx="121.8" cy="339.8" r="1.65"/>
<circle cx="122.5" cy="338.2" r="1.65"/>
<circle cx="123.3" cy="336.1" r="1.65"/>
<circle cx="123.6" cy="326.8" r="1.65"/>
<circle cx="124.4" cy="325.7" r="1.65"/>
<circle cx="124.9" cy="329.1" r="1.65"/>
<circle cx="125.6" cy="335.6" r="1.65"/>
<circle cx="126.4" cy="354.8" r="1.65"/>
<circle cx="129.8" cy="329.1" r="1.65"/>
<circle cx="130.3" cy="332.5" r="1.65"/>
<circle cx="131.3" cy="336.1" r="1.65"/>
<circle cx="132.4" cy="339.2" r="1.65"/>
<circle cx="132.9" cy="323.5" r="1.65"/>
<circle cx="134.2" cy="338.2" r="1.65"/>
<circle cx="135.0" cy="352.7" r="1.65"/>
<circle cx="136.0" cy="344.9" r="1.65"/>
<circle cx="136.5" cy="350.4" r="1.65"/>
<circle cx="137.6" cy="356.3" r="1.65"/>
<circle cx="139.1" cy="346.5" r="1.65"/>
<circle cx="140.7" cy="344.4" r="1.65"/>
<circle cx="141.7" cy="343.9" r="1.65"/>
<circle cx="142.2" cy="315.4" r="1.65"/>
<circle cx="143.3" cy="325.7" r="1.65"/>
<circle cx="144.3" cy="344.9" r="1.65"/>
<circle cx="145.0" cy="347.0" r="1.65"/>
<circle cx="145.3" cy="336.1" r="1.65"/>
<circle cx="146.1" cy="332.5" r="1.65"/>
<circle cx="146.9" cy="333.0" r="1.65"/>
<circle cx="147.3" cy="356.9" r="1.65"/>
<circle cx="148.1" cy="361.5" r="1.65"/>
<circle cx="151.3" cy="347.5" r="1.65"/>
<circle cx="152.3" cy="345.5" r="1.65"/>
<circle cx="153.3" cy="331.5" r="1.65"/>
<circle cx="154.4" cy="351.7" r="1.65"/>
<circle cx="155.2" cy="333.0" r="1.65"/>
<circle cx="156.2" cy="313.8" r="1.65"/>
<circle cx="157.0" cy="335.1" r="1.65"/>
<circle cx="158.0" cy="335.6" r="1.65"/>
<circle cx="159.0" cy="350.1" r="1.65"/>
<circle cx="162.7" cy="309.7" r="1.65"/>
<circle cx="163.9" cy="331.8" r="1.65"/>
<circle cx="164.7" cy="345.5" r="1.65"/>
<circle cx="165.8" cy="353.2" r="1.65"/>
<circle cx="167.3" cy="345.5" r="1.65"/>
<circle cx="168.0" cy="345.8" r="1.65"/>
<circle cx="168.4" cy="348.6" r="1.65"/>
<circle cx="169.1" cy="354.1" r="1.65"/>
<circle cx="169.9" cy="364.7" r="1.65"/>
<circle cx="173.3" cy="322.9" r="1.65"/>
<circle cx="174.4" cy="356.4" r="1.65"/>
<circle cx="175.5" cy="326.8" r="1.65"/>
<circle cx="176.9" cy="324.0" r="1.65"/>
<circle cx="177.2" cy="350.8" r="1.65"/>
<circle cx="179.2" cy="334.6" r="1.65"/>
<circle cx="180.0" cy="345.2" r="1.65"/>
<circle cx="181.1" cy="354.7" r="1.65"/>
<circle cx="184.4" cy="301.7" r="1.65"/>
<circle cx="185.5" cy="316.7" r="1.65"/>
<circle cx="186.3" cy="324.0" r="1.65"/>
<circle cx="187.2" cy="338.5" r="1.65"/>
<circle cx="188.3" cy="344.1" r="1.65"/>
<circle cx="189.4" cy="345.8" r="1.65"/>
<circle cx="190.6" cy="359.2" r="1.65"/>
<circle cx="191.6" cy="359.6" r="1.65"/>
<circle cx="194.9" cy="317.7" r="1.65"/>
<circle cx="196.6" cy="310.8" r="1.65"/>
<circle cx="197.6" cy="330.9" r="1.65"/>
<circle cx="198.8" cy="349.4" r="1.65"/>
<circle cx="199.7" cy="345.2" r="1.65"/>
<circle cx="200.6" cy="327.3" r="1.65"/>
<circle cx="201.8" cy="328.5" r="1.65"/>
<circle cx="203.0" cy="339.9" r="1.65"/>
<circle cx="205.9" cy="311.7" r="1.65"/>
<circle cx="207.1" cy="310.3" r="1.65"/>
<circle cx="208.3" cy="317.7" r="1.65"/>
<circle cx="208.9" cy="324.9" r="1.65"/>
<circle cx="210.1" cy="329.7" r="1.65"/>
<circle cx="211.2" cy="303.1" r="1.65"/>
<circle cx="211.9" cy="336.9" r="1.65"/>
<circle cx="212.5" cy="347.0" r="1.65"/>
<circle cx="213.6" cy="347.6" r="1.65"/>
<circle cx="216.9" cy="294.1" r="1.65"/>
<circle cx="217.8" cy="333.0" r="1.65"/>
<circle cx="219.3" cy="338.1" r="1.65"/>
<circle cx="220.5" cy="339.9" r="1.65"/>
<circle cx="222.0" cy="342.8" r="1.65"/>
<circle cx="223.2" cy="344.6" r="1.65"/>
<circle cx="224.3" cy="308.9" r="1.65"/>
<circle cx="227.3" cy="342.8" r="1.65"/>
<circle cx="228.5" cy="339.3" r="1.65"/>
<circle cx="229.7" cy="327.5" r="1.65"/>
<circle cx="230.9" cy="342.8" r="1.65"/>
<circle cx="232.1" cy="340.5" r="1.65"/>
<circle cx="232.6" cy="332.5" r="1.65"/>
<circle cx="233.1" cy="342.6" r="1.65"/>
<circle cx="233.4" cy="348.0" r="1.65"/>
<circle cx="234.4" cy="333.1" r="1.65"/>
<circle cx="235.6" cy="336.1" r="1.65"/>
<circle cx="237.4" cy="332.5" r="1.65"/>
<circle cx="238.9" cy="333.1" r="1.65"/>
<circle cx="239.8" cy="337.2" r="1.65"/>
<circle cx="241.0" cy="340.2" r="1.65"/>
<circle cx="242.2" cy="336.6" r="1.65"/>
<circle cx="243.4" cy="339.6" r="1.65"/>
<circle cx="244.6" cy="341.4" r="1.65"/>
<circle cx="245.8" cy="340.2" r="1.65"/>
<circle cx="249.2" cy="294.6" r="1.65"/>
<circle cx="249.9" cy="308.5" r="1.65"/>
<circle cx="251.1" cy="312.1" r="1.65"/>
<circle cx="251.7" cy="318.7" r="1.65"/>
<circle cx="252.9" cy="313.9" r="1.65"/>
<circle cx="254.1" cy="309.7" r="1.65"/>
<circle cx="254.6" cy="305.0" r="1.65"/>
<circle cx="255.2" cy="309.1" r="1.65"/>
<circle cx="255.8" cy="321.7" r="1.65"/>
<circle cx="256.6" cy="333.7" r="1.65"/>
<circle cx="260.3" cy="305.8" r="1.65"/>
<circle cx="261.4" cy="315.1" r="1.65"/>
<circle cx="262.4" cy="319.3" r="1.65"/>
<circle cx="263.0" cy="331.9" r="1.65"/>
<circle cx="264.2" cy="332.5" r="1.65"/>
<circle cx="266.0" cy="322.9" r="1.65"/>
<circle cx="266.9" cy="344.4" r="1.65"/>
<circle cx="267.8" cy="350.8" r="1.65"/>
<circle cx="270.7" cy="338.4" r="1.65"/>
<circle cx="271.9" cy="336.6" r="1.65"/>
<circle cx="273.1" cy="328.9" r="1.65"/>
<circle cx="274.3" cy="334.3" r="1.65"/>
<circle cx="275.5" cy="335.5" r="1.65"/>
<circle cx="276.7" cy="342.6" r="1.65"/>
<circle cx="277.6" cy="340.0" r="1.65"/>
<circle cx="277.9" cy="351.0" r="1.65"/>
<circle cx="278.4" cy="350.8" r="1.65"/>
<circle cx="281.6" cy="321.6" r="1.65"/>
<circle cx="282.7" cy="317.6" r="1.65"/>
<circle cx="284.0" cy="320.8" r="1.65"/>
<circle cx="285.2" cy="325.6" r="1.65"/>
<circle cx="286.4" cy="292.1" r="1.65"/>
<circle cx="287.5" cy="318.4" r="1.65"/>
<circle cx="288.8" cy="328.8" r="1.65"/>
<circle cx="290.0" cy="292.9" r="1.65"/>
<circle cx="292.7" cy="322.4" r="1.65"/>
<circle cx="294.3" cy="320.8" r="1.65"/>
<circle cx="295.1" cy="330.4" r="1.65"/>
<circle cx="296.7" cy="320.8" r="1.65"/>
<circle cx="298.0" cy="310.5" r="1.65"/>
<circle cx="298.3" cy="285.7" r="1.65"/>
<circle cx="299.6" cy="273.3" r="1.65"/>
<circle cx="300.7" cy="282.2" r="1.65"/>
<circle cx="303.9" cy="308.1" r="1.65"/>
<circle cx="304.7" cy="312.8" r="1.65"/>
<circle cx="305.5" cy="299.3" r="1.65"/>
<circle cx="306.6" cy="331.2" r="1.65"/>
</g>
<line x1="36.6" y1="349.1" x2="307.2" y2="327.0" stroke="#ff0000" stroke-width="1.0"/>
<rect x="36.50" y="214.50" width="271.10" height="161.00" fill="none" stroke="#a0a0a0" stroke-width="0.8"/>
<line x1="36.50" y1="375.50" x2="36.50" y2="377.70" stroke="#a0a0a0" stroke-width="0.6"/>
<line x1="47.34" y1="375.50" x2="47.34" y2="377.70" stroke="#a0a0a0" stroke-width="0.6"/>
<line x1="58.19" y1="375.50" x2="58.19" y2="377.70" stroke="#a0a0a0" stroke-width="0.6"/>
<line x1="69.03" y1="375.50" x2="69.03" y2="377.70" stroke="#a0a0a0" stroke-width="0.6"/>
<line x1="79.88" y1="375.50" x2="79.88" y2="377.70" stroke="#a0a0a0" stroke-width="0.6"/>
<line x1="90.72" y1="375.50" x2="90.72" y2="377.70" stroke="#a0a0a0" stroke-width="0.6"/>
<line x1="101.56" y1="375.50" x2="101.56" y2="377.70" stroke="#a0a0a0" stroke-width="0.6"/>
<line x1="112.41" y1="375.50" x2="112.41" y2="377.70" stroke="#a0a0a0" stroke-width="0.6"/>
<line x1="123.25" y1="375.50" x2="123.25" y2="377.70" stroke="#a0a0a0" stroke-width="0.6"/>
<line x1="134.10" y1="375.50" x2="134.10" y2="377.70" stroke="#a0a0a0" stroke-width="0.6"/>
<line x1="144.94" y1="375.50" x2="144.94" y2="377.70" stroke="#a0a0a0" stroke-width="0.6"/>
<line x1="155.78" y1="375.50" x2="155.78" y2="377.70" stroke="#a0a0a0" stroke-width="0.6"/>
<line x1="166.63" y1="375.50" x2="166.63" y2="377.70" stroke="#a0a0a0" stroke-width="0.6"/>
<line x1="177.47" y1="375.50" x2="177.47" y2="377.70" stroke="#a0a0a0" stroke-width="0.6"/>
<line x1="188.32" y1="375.50" x2="188.32" y2="377.70" stroke="#a0a0a0" stroke-width="0.6"/>
<line x1="199.16" y1="375.50" x2="199.16" y2="377.70" stroke="#a0a0a0" stroke-width="0.6"/>
<line x1="210.00" y1="375.50" x2="210.00" y2="377.70" stroke="#a0a0a0" stroke-width="0.6"/>
<line x1="220.85" y1="375.50" x2="220.85" y2="377.70" stroke="#a0a0a0" stroke-width="0.6"/>
<line x1="231.69" y1="375.50" x2="231.69" y2="377.70" stroke="#a0a0a0" stroke-width="0.6"/>
<line x1="242.54" y1="375.50" x2="242.54" y2="377.70" stroke="#a0a0a0" stroke-width="0.6"/>
<line x1="253.38" y1="375.50" x2="253.38" y2="377.70" stroke="#a0a0a0" stroke-width="0.6"/>
<line x1="264.22" y1="375.50" x2="264.22" y2="377.70" stroke="#a0a0a0" stroke-width="0.6"/>
<line x1="275.07" y1="375.50" x2="275.07" y2="377.70" stroke="#a0a0a0" stroke-width="0.6"/>
<line x1="285.91" y1="375.50" x2="285.91" y2="377.70" stroke="#a0a0a0" stroke-width="0.6"/>
<line x1="296.76" y1="375.50" x2="296.76" y2="377.70" stroke="#a0a0a0" stroke-width="0.6"/>
<line x1="307.60" y1="375.50" x2="307.60" y2="377.70" stroke="#a0a0a0" stroke-width="0.6"/>
<line x1="36.50" y1="375.50" x2="36.50" y2="379.70" stroke="#a0a0a0" stroke-width="0.8"/>
<text x="35.90" y="386.30" font-size="7.20" text-anchor="middle" fill="#1a1a1a" textLength="16.54" lengthAdjust="spacingAndGlyphs" stroke="#1a1a1a" stroke-width="0.12">1996</text>
<line x1="90.50" y1="375.50" x2="90.50" y2="379.70" stroke="#a0a0a0" stroke-width="0.8"/>
<text x="89.90" y="386.30" font-size="7.20" text-anchor="middle" fill="#1a1a1a" textLength="16.54" lengthAdjust="spacingAndGlyphs" stroke="#1a1a1a" stroke-width="0.12">2001</text>
<line x1="144.50" y1="375.50" x2="144.50" y2="379.70" stroke="#a0a0a0" stroke-width="0.8"/>
<text x="143.90" y="386.30" font-size="7.20" text-anchor="middle" fill="#1a1a1a" textLength="16.54" lengthAdjust="spacingAndGlyphs" stroke="#1a1a1a" stroke-width="0.12">2006</text>
<line x1="199.20" y1="375.50" x2="199.20" y2="379.70" stroke="#a0a0a0" stroke-width="0.8"/>
<text x="198.60" y="386.30" font-size="7.20" text-anchor="middle" fill="#1a1a1a" textLength="16.54" lengthAdjust="spacingAndGlyphs" stroke="#1a1a1a" stroke-width="0.12">2011</text>
<line x1="253.50" y1="375.50" x2="253.50" y2="379.70" stroke="#a0a0a0" stroke-width="0.8"/>
<text x="252.90" y="386.30" font-size="7.20" text-anchor="middle" fill="#1a1a1a" textLength="16.54" lengthAdjust="spacingAndGlyphs" stroke="#1a1a1a" stroke-width="0.12">2016</text>
<line x1="307.60" y1="375.50" x2="307.60" y2="379.70" stroke="#a0a0a0" stroke-width="0.8"/>
<text x="307.00" y="386.30" font-size="7.20" text-anchor="middle" fill="#1a1a1a" textLength="16.54" lengthAdjust="spacingAndGlyphs" stroke="#1a1a1a" stroke-width="0.12">2021</text>
<line x1="35.00" y1="375.50" x2="36.50" y2="375.50" stroke="#a0a0a0" stroke-width="0.6"/>
<line x1="35.00" y1="367.45" x2="36.50" y2="367.45" stroke="#a0a0a0" stroke-width="0.6"/>
<line x1="35.00" y1="359.40" x2="36.50" y2="359.40" stroke="#a0a0a0" stroke-width="0.6"/>
<line x1="35.00" y1="351.35" x2="36.50" y2="351.35" stroke="#a0a0a0" stroke-width="0.6"/>
<line x1="35.00" y1="343.30" x2="36.50" y2="343.30" stroke="#a0a0a0" stroke-width="0.6"/>
<line x1="35.00" y1="335.25" x2="36.50" y2="335.25" stroke="#a0a0a0" stroke-width="0.6"/>
<line x1="35.00" y1="327.20" x2="36.50" y2="327.20" stroke="#a0a0a0" stroke-width="0.6"/>
<line x1="35.00" y1="319.15" x2="36.50" y2="319.15" stroke="#a0a0a0" stroke-width="0.6"/>
<line x1="35.00" y1="311.10" x2="36.50" y2="311.10" stroke="#a0a0a0" stroke-width="0.6"/>
<line x1="35.00" y1="303.05" x2="36.50" y2="303.05" stroke="#a0a0a0" stroke-width="0.6"/>
<line x1="35.00" y1="295.00" x2="36.50" y2="295.00" stroke="#a0a0a0" stroke-width="0.6"/>
<line x1="35.00" y1="286.95" x2="36.50" y2="286.95" stroke="#a0a0a0" stroke-width="0.6"/>
<line x1="35.00" y1="278.90" x2="36.50" y2="278.90" stroke="#a0a0a0" stroke-width="0.6"/>
<line x1="35.00" y1="270.85" x2="36.50" y2="270.85" stroke="#a0a0a0" stroke-width="0.6"/>
<line x1="35.00" y1="262.80" x2="36.50" y2="262.80" stroke="#a0a0a0" stroke-width="0.6"/>
<line x1="35.00" y1="254.75" x2="36.50" y2="254.75" stroke="#a0a0a0" stroke-width="0.6"/>
<line x1="35.00" y1="246.70" x2="36.50" y2="246.70" stroke="#a0a0a0" stroke-width="0.6"/>
<line x1="35.00" y1="238.65" x2="36.50" y2="238.65" stroke="#a0a0a0" stroke-width="0.6"/>
<line x1="35.00" y1="230.60" x2="36.50" y2="230.60" stroke="#a0a0a0" stroke-width="0.6"/>
<line x1="35.00" y1="222.55" x2="36.50" y2="222.55" stroke="#a0a0a0" stroke-width="0.6"/>
<line x1="35.00" y1="214.50" x2="36.50" y2="214.50" stroke="#a0a0a0" stroke-width="0.6"/>
<line x1="32.30" y1="375.50" x2="36.50" y2="375.50" stroke="#a0a0a0" stroke-width="0.8"/>
<text x="29.60" y="378.05" font-size="7.20" text-anchor="end" fill="#1a1a1a" textLength="14.47" lengthAdjust="spacingAndGlyphs" stroke="#1a1a1a" stroke-width="0.12">0.00</text>
<line x1="32.30" y1="343.50" x2="36.50" y2="343.50" stroke="#a0a0a0" stroke-width="0.8"/>
<text x="29.60" y="346.05" font-size="7.20" text-anchor="end" fill="#1a1a1a" textLength="14.47" lengthAdjust="spacingAndGlyphs" stroke="#1a1a1a" stroke-width="0.12">0.02</text>
<line x1="32.30" y1="311.50" x2="36.50" y2="311.50" stroke="#a0a0a0" stroke-width="0.8"/>
<text x="29.60" y="314.05" font-size="7.20" text-anchor="end" fill="#1a1a1a" textLength="14.47" lengthAdjust="spacingAndGlyphs" stroke="#1a1a1a" stroke-width="0.12">0.04</text>
<line x1="32.30" y1="279.00" x2="36.50" y2="279.00" stroke="#a0a0a0" stroke-width="0.8"/>
<text x="29.60" y="281.55" font-size="7.20" text-anchor="end" fill="#1a1a1a" textLength="14.47" lengthAdjust="spacingAndGlyphs" stroke="#1a1a1a" stroke-width="0.12">0.06</text>
<line x1="32.30" y1="246.60" x2="36.50" y2="246.60" stroke="#a0a0a0" stroke-width="0.8"/>
<text x="29.60" y="249.15" font-size="7.20" text-anchor="end" fill="#1a1a1a" textLength="14.47" lengthAdjust="spacingAndGlyphs" stroke="#1a1a1a" stroke-width="0.12">0.08</text>
<line x1="32.30" y1="214.50" x2="36.50" y2="214.50" stroke="#a0a0a0" stroke-width="0.8"/>
<text x="29.60" y="217.05" font-size="7.20" text-anchor="end" fill="#1a1a1a" textLength="14.47" lengthAdjust="spacingAndGlyphs" stroke="#1a1a1a" stroke-width="0.12">0.10</text>
<text x="55.30" y="232.00" font-size="13.80" text-anchor="start" fill="#000" textLength="43.14" lengthAdjust="spacingAndGlyphs">Syowa</text>
<text x="117.90" y="229.90" font-size="9.46" text-anchor="start" fill="#ff0000" textLength="125.20" lengthAdjust="spacingAndGlyphs">3.84 [2.65, 5.72] %/year ***</text>
<text x="172.05" y="397.10" font-size="10.40" text-anchor="middle" fill="#1a1a1a" textLength="22.30" lengthAdjust="spacingAndGlyphs">Time</text>
<text x="160.00" y="413.10" font-size="10.30" text-anchor="middle" fill="#1a1a1a" textLength="12.31" lengthAdjust="spacingAndGlyphs">(b)</text>
<text font-size="9.80" text-anchor="middle" fill="#1a1a1a" textLength="51.53" lengthAdjust="spacingAndGlyphs" transform="translate(9.6,293.70) rotate(-90)">τ (0.50 <tspan font-style="italic">μ</tspan>m)</text><line x1="36.40" y1="423.50" x2="36.40" y2="584.50" stroke="#d4d4d4" stroke-width="0.8"/>
<line x1="81.50" y1="423.50" x2="81.50" y2="584.50" stroke="#d4d4d4" stroke-width="0.8"/>
<line x1="126.60" y1="423.50" x2="126.60" y2="584.50" stroke="#d4d4d4" stroke-width="0.8"/>
<line x1="172.20" y1="423.50" x2="172.20" y2="584.50" stroke="#d4d4d4" stroke-width="0.8"/>
<line x1="217.50" y1="423.50" x2="217.50" y2="584.50" stroke="#d4d4d4" stroke-width="0.8"/>
<line x1="262.50" y1="423.50" x2="262.50" y2="584.50" stroke="#d4d4d4" stroke-width="0.8"/>
<line x1="307.50" y1="423.50" x2="307.50" y2="584.50" stroke="#d4d4d4" stroke-width="0.8"/>
<line x1="36.40" y1="584.50" x2="307.50" y2="584.50" stroke="#d4d4d4" stroke-width="0.8"/>
<line x1="36.40" y1="552.50" x2="307.50" y2="552.50" stroke="#d4d4d4" stroke-width="0.8"/>
<line x1="36.40" y1="519.90" x2="307.50" y2="519.90" stroke="#d4d4d4" stroke-width="0.8"/>
<line x1="36.40" y1="487.50" x2="307.50" y2="487.50" stroke="#d4d4d4" stroke-width="0.8"/>
<line x1="36.40" y1="455.50" x2="307.50" y2="455.50" stroke="#d4d4d4" stroke-width="0.8"/>
<line x1="36.40" y1="423.50" x2="307.50" y2="423.50" stroke="#d4d4d4" stroke-width="0.8"/>
<polyline points="49.4,552.2 50.4,551.5 51.3,550.8 53.4,532.5 64.4,558.3 66.0,545.8 67.9,558.3 80.0,553.5 80.9,548.1 83.5,547.1 96.2,561.0 97.5,553.0 110.0,554.5 111.2,552.5 112.5,522.0 125.5,557.5 127.0,557.0 142.8,546.5 154.8,551.0 156.5,543.5 157.8,550.0 171.2,540.5 172.8,543.5 185.5,520.0 187.0,554.5 188.0,555.5 189.5,543.8 200.8,509.5 202.0,567.0 203.2,569.5 216.9,551.4 218.0,542.1 232.1,526.6 233.4,533.1 234.8,515.9 246.2,519.1 247.1,533.5 249.0,542.1 250.3,542.9 260.6,554.7 262.0,552.0 263.8,540.1 264.8,551.0 277.5,535.0 278.8,518.8 280.0,513.0" fill="none" stroke="#1f77b4" stroke-width="0.5" stroke-linejoin="round"/>
<g fill="none" stroke="#1f77b4" stroke-width="0.6">
<circle cx="49.4" cy="552.2" r="1.65"/>
<circle cx="50.4" cy="551.5" r="1.65"/>
<circle cx="51.3" cy="550.8" r="1.65"/>
<circle cx="53.4" cy="532.5" r="1.65"/>
<circle cx="64.4" cy="558.3" r="1.65"/>
<circle cx="66.0" cy="545.8" r="1.65"/>
<circle cx="67.9" cy="558.3" r="1.65"/>
<circle cx="80.0" cy="553.5" r="1.65"/>
<circle cx="80.9" cy="548.1" r="1.65"/>
<circle cx="83.5" cy="547.1" r="1.65"/>
<circle cx="96.2" cy="561.0" r="1.65"/>
<circle cx="97.5" cy="553.0" r="1.65"/>
<circle cx="110.0" cy="554.5" r="1.65"/>
<circle cx="111.2" cy="552.5" r="1.65"/>
<circle cx="112.5" cy="522.0" r="1.65"/>
<circle cx="125.5" cy="557.5" r="1.65"/>
<circle cx="127.0" cy="557.0" r="1.65"/>
<circle cx="142.8" cy="546.5" r="1.65"/>
<circle cx="154.8" cy="551.0" r="1.65"/>
<circle cx="156.5" cy="543.5" r="1.65"/>
<circle cx="157.8" cy="550.0" r="1.65"/>
<circle cx="171.2" cy="540.5" r="1.65"/>
<circle cx="172.8" cy="543.5" r="1.65"/>
<circle cx="185.5" cy="520.0" r="1.65"/>
<circle cx="187.0" cy="554.5" r="1.65"/>
<circle cx="188.0" cy="555.5" r="1.65"/>
<circle cx="189.5" cy="543.8" r="1.65"/>
<circle cx="200.8" cy="509.5" r="1.65"/>
<circle cx="202.0" cy="567.0" r="1.65"/>
<circle cx="203.2" cy="569.5" r="1.65"/>
<circle cx="216.9" cy="551.4" r="1.65"/>
<circle cx="218.0" cy="542.1" r="1.65"/>
<circle cx="232.1" cy="526.6" r="1.65"/>
<circle cx="233.4" cy="533.1" r="1.65"/>
<circle cx="234.8" cy="515.9" r="1.65"/>
<circle cx="246.2" cy="519.1" r="1.65"/>
<circle cx="247.1" cy="533.5" r="1.65"/>
<circle cx="249.0" cy="542.1" r="1.65"/>
<circle cx="250.3" cy="542.9" r="1.65"/>
<circle cx="260.6" cy="554.7" r="1.65"/>
<circle cx="262.0" cy="552.0" r="1.65"/>
<circle cx="263.8" cy="540.1" r="1.65"/>
<circle cx="264.8" cy="551.0" r="1.65"/>
<circle cx="277.5" cy="535.0" r="1.65"/>
<circle cx="278.8" cy="518.8" r="1.65"/>
<circle cx="280.0" cy="513.0" r="1.65"/>
</g>
<line x1="49.5" y1="548.6" x2="280.0" y2="545.0" stroke="#ff0000" stroke-width="1.0"/>
<rect x="36.40" y="423.50" width="271.10" height="161.00" fill="none" stroke="#a0a0a0" stroke-width="0.8"/>
<line x1="36.40" y1="584.50" x2="36.40" y2="586.70" stroke="#a0a0a0" stroke-width="0.6"/>
<line x1="51.46" y1="584.50" x2="51.46" y2="586.70" stroke="#a0a0a0" stroke-width="0.6"/>
<line x1="66.52" y1="584.50" x2="66.52" y2="586.70" stroke="#a0a0a0" stroke-width="0.6"/>
<line x1="81.58" y1="584.50" x2="81.58" y2="586.70" stroke="#a0a0a0" stroke-width="0.6"/>
<line x1="96.64" y1="584.50" x2="96.64" y2="586.70" stroke="#a0a0a0" stroke-width="0.6"/>
<line x1="111.71" y1="584.50" x2="111.71" y2="586.70" stroke="#a0a0a0" stroke-width="0.6"/>
<line x1="126.77" y1="584.50" x2="126.77" y2="586.70" stroke="#a0a0a0" stroke-width="0.6"/>
<line x1="141.83" y1="584.50" x2="141.83" y2="586.70" stroke="#a0a0a0" stroke-width="0.6"/>
<line x1="156.89" y1="584.50" x2="156.89" y2="586.70" stroke="#a0a0a0" stroke-width="0.6"/>
<line x1="171.95" y1="584.50" x2="171.95" y2="586.70" stroke="#a0a0a0" stroke-width="0.6"/>
<line x1="187.01" y1="584.50" x2="187.01" y2="586.70" stroke="#a0a0a0" stroke-width="0.6"/>
<line x1="202.07" y1="584.50" x2="202.07" y2="586.70" stroke="#a0a0a0" stroke-width="0.6"/>
<line x1="217.13" y1="584.50" x2="217.13" y2="586.70" stroke="#a0a0a0" stroke-width="0.6"/>
<line x1="232.19" y1="584.50" x2="232.19" y2="586.70" stroke="#a0a0a0" stroke-width="0.6"/>
<line x1="247.26" y1="584.50" x2="247.26" y2="586.70" stroke="#a0a0a0" stroke-width="0.6"/>
<line x1="262.32" y1="584.50" x2="262.32" y2="586.70" stroke="#a0a0a0" stroke-width="0.6"/>
<line x1="277.38" y1="584.50" x2="277.38" y2="586.70" stroke="#a0a0a0" stroke-width="0.6"/>
<line x1="292.44" y1="584.50" x2="292.44" y2="586.70" stroke="#a0a0a0" stroke-width="0.6"/>
<line x1="307.50" y1="584.50" x2="307.50" y2="586.70" stroke="#a0a0a0" stroke-width="0.6"/>
<line x1="36.40" y1="584.50" x2="36.40" y2="588.70" stroke="#a0a0a0" stroke-width="0.8"/>
<text x="35.80" y="595.30" font-size="7.20" text-anchor="middle" fill="#1a1a1a" textLength="16.54" lengthAdjust="spacingAndGlyphs" stroke="#1a1a1a" stroke-width="0.12">2007</text>
<line x1="81.50" y1="584.50" x2="81.50" y2="588.70" stroke="#a0a0a0" stroke-width="0.8"/>
<text x="80.90" y="595.30" font-size="7.20" text-anchor="middle" fill="#1a1a1a" textLength="16.54" lengthAdjust="spacingAndGlyphs" stroke="#1a1a1a" stroke-width="0.12">2010</text>
<line x1="126.60" y1="584.50" x2="126.60" y2="588.70" stroke="#a0a0a0" stroke-width="0.8"/>
<text x="126.00" y="595.30" font-size="7.20" text-anchor="middle" fill="#1a1a1a" textLength="16.54" lengthAdjust="spacingAndGlyphs" stroke="#1a1a1a" stroke-width="0.12">2013</text>
<line x1="172.20" y1="584.50" x2="172.20" y2="588.70" stroke="#a0a0a0" stroke-width="0.8"/>
<text x="171.60" y="595.30" font-size="7.20" text-anchor="middle" fill="#1a1a1a" textLength="16.54" lengthAdjust="spacingAndGlyphs" stroke="#1a1a1a" stroke-width="0.12">2016</text>
<line x1="217.50" y1="584.50" x2="217.50" y2="588.70" stroke="#a0a0a0" stroke-width="0.8"/>
<text x="216.90" y="595.30" font-size="7.20" text-anchor="middle" fill="#1a1a1a" textLength="16.54" lengthAdjust="spacingAndGlyphs" stroke="#1a1a1a" stroke-width="0.12">2019</text>
<line x1="262.50" y1="584.50" x2="262.50" y2="588.70" stroke="#a0a0a0" stroke-width="0.8"/>
<text x="261.90" y="595.30" font-size="7.20" text-anchor="middle" fill="#1a1a1a" textLength="16.54" lengthAdjust="spacingAndGlyphs" stroke="#1a1a1a" stroke-width="0.12">2022</text>
<line x1="307.50" y1="584.50" x2="307.50" y2="588.70" stroke="#a0a0a0" stroke-width="0.8"/>
<text x="306.90" y="595.30" font-size="7.20" text-anchor="middle" fill="#1a1a1a" textLength="16.54" lengthAdjust="spacingAndGlyphs" stroke="#1a1a1a" stroke-width="0.12">2025</text>
<line x1="34.90" y1="584.50" x2="36.40" y2="584.50" stroke="#a0a0a0" stroke-width="0.6"/>
<line x1="34.90" y1="576.45" x2="36.40" y2="576.45" stroke="#a0a0a0" stroke-width="0.6"/>
<line x1="34.90" y1="568.40" x2="36.40" y2="568.40" stroke="#a0a0a0" stroke-width="0.6"/>
<line x1="34.90" y1="560.35" x2="36.40" y2="560.35" stroke="#a0a0a0" stroke-width="0.6"/>
<line x1="34.90" y1="552.30" x2="36.40" y2="552.30" stroke="#a0a0a0" stroke-width="0.6"/>
<line x1="34.90" y1="544.25" x2="36.40" y2="544.25" stroke="#a0a0a0" stroke-width="0.6"/>
<line x1="34.90" y1="536.20" x2="36.40" y2="536.20" stroke="#a0a0a0" stroke-width="0.6"/>
<line x1="34.90" y1="528.15" x2="36.40" y2="528.15" stroke="#a0a0a0" stroke-width="0.6"/>
<line x1="34.90" y1="520.10" x2="36.40" y2="520.10" stroke="#a0a0a0" stroke-width="0.6"/>
<line x1="34.90" y1="512.05" x2="36.40" y2="512.05" stroke="#a0a0a0" stroke-width="0.6"/>
<line x1="34.90" y1="504.00" x2="36.40" y2="504.00" stroke="#a0a0a0" stroke-width="0.6"/>
<line x1="34.90" y1="495.95" x2="36.40" y2="495.95" stroke="#a0a0a0" stroke-width="0.6"/>
<line x1="34.90" y1="487.90" x2="36.40" y2="487.90" stroke="#a0a0a0" stroke-width="0.6"/>
<line x1="34.90" y1="479.85" x2="36.40" y2="479.85" stroke="#a0a0a0" stroke-width="0.6"/>
<line x1="34.90" y1="471.80" x2="36.40" y2="471.80" stroke="#a0a0a0" stroke-width="0.6"/>
<line x1="34.90" y1="463.75" x2="36.40" y2="463.75" stroke="#a0a0a0" stroke-width="0.6"/>
<line x1="34.90" y1="455.70" x2="36.40" y2="455.70" stroke="#a0a0a0" stroke-width="0.6"/>
<line x1="34.90" y1="447.65" x2="36.40" y2="447.65" stroke="#a0a0a0" stroke-width="0.6"/>
<line x1="34.90" y1="439.60" x2="36.40" y2="439.60" stroke="#a0a0a0" stroke-width="0.6"/>
<line x1="34.90" y1="431.55" x2="36.40" y2="431.55" stroke="#a0a0a0" stroke-width="0.6"/>
<line x1="34.90" y1="423.50" x2="36.40" y2="423.50" stroke="#a0a0a0" stroke-width="0.6"/>
<line x1="32.20" y1="584.50" x2="36.40" y2="584.50" stroke="#a0a0a0" stroke-width="0.8"/>
<text x="29.60" y="587.05" font-size="7.20" text-anchor="end" fill="#1a1a1a" textLength="14.47" lengthAdjust="spacingAndGlyphs" stroke="#1a1a1a" stroke-width="0.12">0.00</text>
<line x1="32.20" y1="552.50" x2="36.40" y2="552.50" stroke="#a0a0a0" stroke-width="0.8"/>
<text x="29.60" y="555.05" font-size="7.20" text-anchor="end" fill="#1a1a1a" textLength="14.47" lengthAdjust="spacingAndGlyphs" stroke="#1a1a1a" stroke-width="0.12">0.02</text>
<line x1="32.20" y1="519.90" x2="36.40" y2="519.90" stroke="#a0a0a0" stroke-width="0.8"/>
<text x="29.60" y="522.45" font-size="7.20" text-anchor="end" fill="#1a1a1a" textLength="14.47" lengthAdjust="spacingAndGlyphs" stroke="#1a1a1a" stroke-width="0.12">0.04</text>
<line x1="32.20" y1="487.50" x2="36.40" y2="487.50" stroke="#a0a0a0" stroke-width="0.8"/>
<text x="29.60" y="490.05" font-size="7.20" text-anchor="end" fill="#1a1a1a" textLength="14.47" lengthAdjust="spacingAndGlyphs" stroke="#1a1a1a" stroke-width="0.12">0.06</text>
<line x1="32.20" y1="455.50" x2="36.40" y2="455.50" stroke="#a0a0a0" stroke-width="0.8"/>
<text x="29.60" y="458.05" font-size="7.20" text-anchor="end" fill="#1a1a1a" textLength="14.47" lengthAdjust="spacingAndGlyphs" stroke="#1a1a1a" stroke-width="0.12">0.08</text>
<line x1="32.20" y1="423.50" x2="36.40" y2="423.50" stroke="#a0a0a0" stroke-width="0.8"/>
<text x="29.60" y="426.05" font-size="7.20" text-anchor="end" fill="#1a1a1a" textLength="14.47" lengthAdjust="spacingAndGlyphs" stroke="#1a1a1a" stroke-width="0.12">0.10</text>
<text x="41.40" y="440.50" font-size="13.80" text-anchor="start" fill="#000" textLength="69.89" lengthAdjust="spacingAndGlyphs">South Pole</text>
<text x="117.70" y="439.60" font-size="9.46" text-anchor="start" fill="#ff0000" textLength="120.75" lengthAdjust="spacingAndGlyphs">3.54 [1.17, 8.51] %/year **</text>
<text x="171.95" y="606.10" font-size="10.40" text-anchor="middle" fill="#1a1a1a" textLength="22.30" lengthAdjust="spacingAndGlyphs">Time</text>
<text x="160.00" y="622.10" font-size="10.30" text-anchor="middle" fill="#1a1a1a" textLength="11.57" lengthAdjust="spacingAndGlyphs">(c)</text>
<text font-size="9.80" text-anchor="middle" fill="#1a1a1a" textLength="51.53" lengthAdjust="spacingAndGlyphs" transform="translate(9.6,502.70) rotate(-90)">τ (0.50 <tspan font-style="italic">μ</tspan>m)</text>
</svg>
</body></html>
